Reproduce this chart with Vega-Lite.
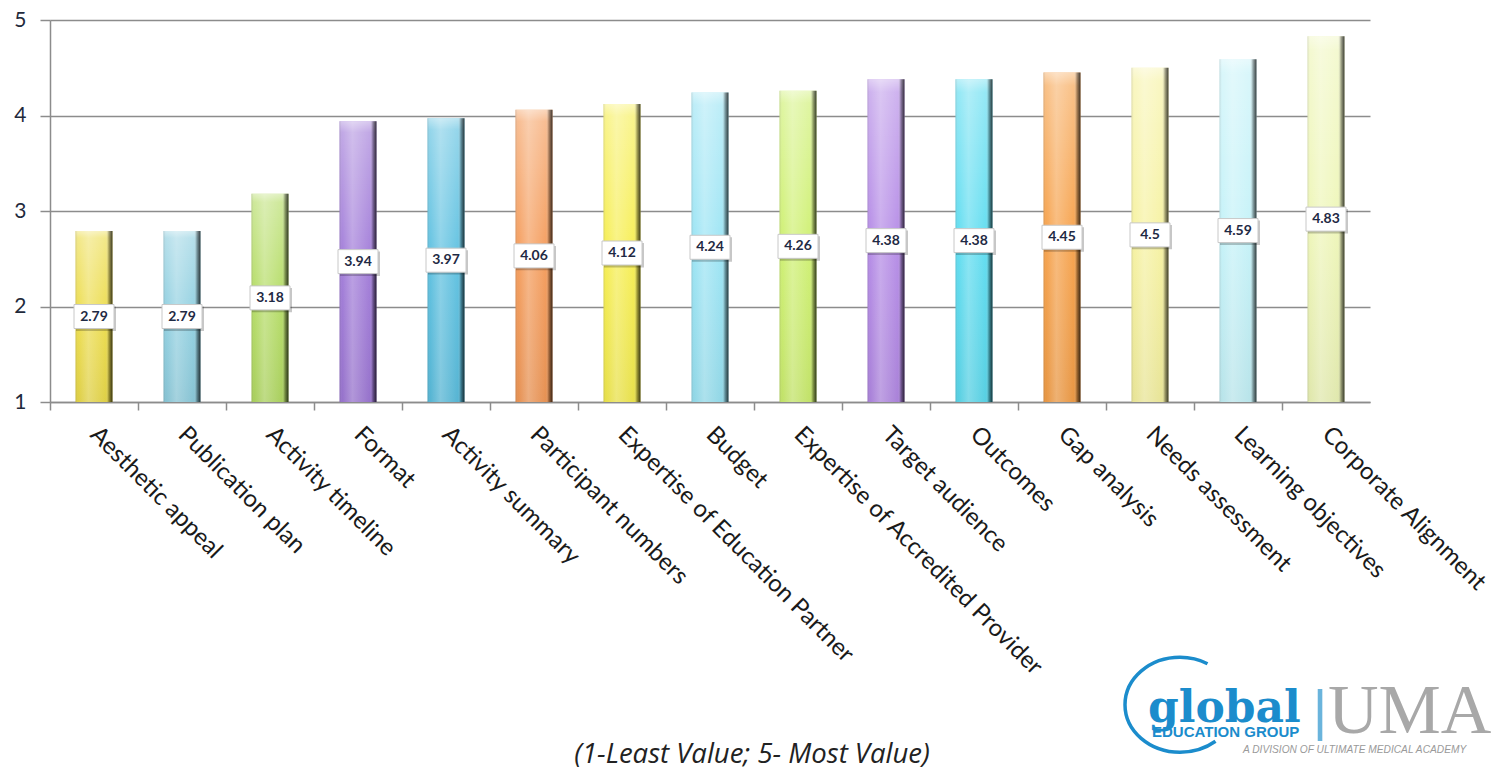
{
  "$schema": "https://vega.github.io/schema/vega-lite/v6.json",
  "autosize": "none",
  "width": 1320,
  "height": 382,
  "padding": {"left": 50, "top": 20, "right": 126, "bottom": 370},
  "background": "white",
  "config": {"view": {"stroke": null}},
  "title": {
    "text": "(1-Least Value; 5- Most Value)",
    "orient": "bottom",
    "anchor": "middle",
    "font": "Open Sans",
    "fontStyle": "italic",
    "fontWeight": "normal",
    "fontSize": 27.5,
    "color": "#222222",
    "offset": -18,
    "dx": 42
  },
  "data": {
    "values": [
      {"cat": "Aesthetic appeal", "value": 2.79},
      {"cat": "Publication plan", "value": 2.79},
      {"cat": "Activity timeline", "value": 3.18},
      {"cat": "Format", "value": 3.94},
      {"cat": "Activity summary", "value": 3.97},
      {"cat": "Participant numbers", "value": 4.06},
      {"cat": "Expertise of Education Partner", "value": 4.12},
      {"cat": "Budget", "value": 4.24},
      {"cat": "Expertise of Accredited Provider", "value": 4.26},
      {"cat": "Target audience", "value": 4.38},
      {"cat": "Outcomes", "value": 4.38},
      {"cat": "Gap analysis", "value": 4.45},
      {"cat": "Needs assessment", "value": 4.5},
      {"cat": "Learning objectives", "value": 4.59},
      {"cat": "Corporate Alignment", "value": 4.83}
    ]
  },
  "resolve": {"scale": {"y": "independent"}},
  "layer": [
    {
      "layer": [
        {
          "mark": {"type": "bar"},
          "encoding": {
            "x": {
              "field": "cat",
              "type": "nominal",
              "sort": null,
              "scale": {
                "domain": ["Aesthetic appeal", "Publication plan", "Activity timeline", "Format", "Activity summary", "Participant numbers", "Expertise of Education Partner", "Budget", "Expertise of Accredited Provider", "Target audience", "Outcomes", "Gap analysis", "Needs assessment", "Learning objectives", "Corporate Alignment"],
                "paddingInner": 0.58,
                "paddingOuter": 0.29
              },
              "axis": {
                "title": null,
                "labelAngle": 45,
                "labelAlign": "left",
                "labelBaseline": "top",
                "labelFont": "Lato",
                "labelFontSize": 24,
                "labelColor": "#1a1a1a",
                "labelPadding": 12,
                "labelOffset": 52,
                "labelLimit": 400,
                "domainColor": "#8c8c8c",
                "domainWidth": 1.5,
                "tickColor": "#8c8c8c",
                "tickWidth": 1.5,
                "tickSize": 8,
                "tickOffset": -44
              }
            },
            "y": {
              "field": "value",
              "type": "quantitative",
              "scale": {"domain": [1, 5], "zero": false, "nice": false},
              "axis": {
                "title": null,
                "values": [1, 2, 3, 4, 5],
                "format": "d",
                "labelFont": "Lato",
                "labelFontSize": 21,
                "labelColor": "#1f2a3c",
                "labelPadding": 14,
                "tickSize": 10,
                "tickColor": "#8c8c8c",
                "tickWidth": 1.5,
                "domainColor": "#8c8c8c",
                "domainWidth": 1.5,
                "grid": true,
                "gridColor": "#8c8c8c",
                "gridWidth": 1.5
              }
            },
            "y2": {"datum": 1},
            "color": {
              "field": "cat",
              "type": "nominal",
              "legend": null,
              "scale": {
                "domain": ["Aesthetic appeal", "Publication plan", "Activity timeline", "Format", "Activity summary", "Participant numbers", "Expertise of Education Partner", "Budget", "Expertise of Accredited Provider", "Target audience", "Outcomes", "Gap analysis", "Needs assessment", "Learning objectives", "Corporate Alignment"],
                "range": ["#ecdc4a", "#8fcfe0", "#b4dc64", "#a07ad8", "#5cc0e0", "#f49a58", "#f6ee50", "#9ae4f4", "#cef070", "#b48ae6", "#5cdcf0", "#f6a048", "#f6f2a0", "#c4f2f8", "#eef6b8"]
              }
            }
          }
        },
        {
          "mark": {
            "type": "bar",
            "fill": {
              "gradient": "linear", "x1": 0, "y1": 0, "x2": 0, "y2": 1,
              "stops": [
                {"offset": 0, "color": "rgba(255,255,255,0.6)"},
                {"offset": 0.04, "color": "rgba(255,255,255,0.35)"},
                {"offset": 0.5, "color": "rgba(255,255,255,0.05)"},
                {"offset": 1, "color": "rgba(0,0,0,0.06)"}
              ]
            }
          },
          "encoding": {
            "x": {"field": "cat", "type": "nominal", "sort": null},
            "y": {"field": "value", "type": "quantitative"},
            "y2": {"datum": 1}
          }
        },
        {
          "mark": {
            "type": "bar",
            "fill": {
              "gradient": "linear", "x1": 0, "y1": 0, "x2": 1, "y2": 0,
              "stops": [
                {"offset": 0, "color": "rgba(0,0,0,0.12)"},
                {"offset": 0.08, "color": "rgba(255,255,255,0)"},
                {"offset": 0.35, "color": "rgba(255,255,255,0.25)"},
                {"offset": 0.82, "color": "rgba(255,255,255,0)"},
                {"offset": 0.9, "color": "rgba(0,0,0,0.3)"},
                {"offset": 1, "color": "rgba(0,0,0,0.75)"}
              ]
            }
          },
          "encoding": {
            "x": {"field": "cat", "type": "nominal", "sort": null},
            "y": {"field": "value", "type": "quantitative"},
            "y2": {"datum": 1}
          }
        },
        {
          "data": {"values": [{"label": "swoosh"}]},
          "mark": {
            "type": "point",
            "shape": "M1.15,-0.82 Q0.9,-0.95 0.6,-0.95 C-0.0075,-0.95 -0.5,-0.525 -0.5,0 C-0.5,0.525 -0.0075,0.95 0.6,0.95 Q1.0,0.95 1.31,0.73",
            "filled": false,
            "stroke": "#1b8ccc",
            "strokeWidth": 3.5,
            "size": 10000,
            "opacity": 1
          },
          "encoding": {
            "x": {"datum": "Needs assessment"},
            "y": {"datum": -2.17}
          }
        },
        {
          "data": {"values": [{"label": "global"}]},
          "mark": {"type": "text", "font": "DejaVu Serif", "fontWeight": "bold", "fontSize": 44, "color": "#1b8ccc", "align": "left", "baseline": "alphabetic", "dx": -2},
          "encoding": {
            "x": {"datum": "Needs assessment"},
            "y": {"datum": -2.35},
            "text": {"field": "label"}
          }
        },
        {
          "data": {"values": [{"label": "EDUCATION GROUP"}]},
          "mark": {"type": "text", "font": "Liberation Sans", "fontWeight": "bold", "fontSize": 15, "color": "#1b8ccc", "align": "left", "baseline": "alphabetic", "dx": 2},
          "encoding": {
            "x": {"datum": "Needs assessment"},
            "y": {"datum": -2.51},
            "text": {"field": "label"}
          }
        },
        {
          "data": {"values": [{"label": "|"}]},
          "mark": {"type": "text", "font": "Liberation Sans", "fontSize": 56, "color": "#6ab4dc", "align": "center", "baseline": "middle", "dx": -6},
          "encoding": {
            "x": {"datum": "Corporate Alignment"},
            "y": {"datum": -2.246},
            "text": {"field": "label"}
          }
        },
        {
          "data": {"values": [{"label": "UMA"}]},
          "mark": {"type": "text", "font": "Liberation Serif", "fontSize": 70, "color": "#a8a8a8", "align": "left", "baseline": "alphabetic", "dx": 2},
          "encoding": {
            "x": {"datum": "Corporate Alignment"},
            "y": {"datum": -2.47},
            "text": {"field": "label"}
          }
        },
        {
          "data": {"values": [{"label": "A DIVISION OF ULTIMATE MEDICAL ACADEMY"}]},
          "mark": {"type": "text", "font": "Liberation Sans", "fontStyle": "italic", "fontSize": 10.2, "color": "#9a9a9a", "align": "left", "baseline": "alphabetic", "dx": 5},
          "encoding": {
            "x": {"datum": "Learning objectives"},
            "y": {"datum": -2.675},
            "text": {"field": "label"}
          }
        }
      ]
    },
    {
      "layer": [
        {
          "mark": {
            "type": "point",
            "shape": "M-0.9,-0.5L1.1,-0.5L1.1,0.72L-0.9,0.72Z",
            "filled": true,
            "fill": "rgba(0,0,0,0.22)",
            "strokeWidth": 0,
            "size": 1600,
            "opacity": 1
          },
          "encoding": {
            "x": {"field": "cat", "type": "nominal", "sort": null},
            "y": {"field": "value", "type": "quantitative", "scale": {"domain": [1, 9], "zero": false, "nice": false}, "axis": null}
          }
        },
        {
          "mark": {
            "type": "point",
            "shape": "M-1,-0.6L1,-0.6L1,0.6L-1,0.6Z",
            "filled": true,
            "fill": "white",
            "stroke": "#c8c8c8",
            "strokeWidth": 1,
            "size": 1600,
            "opacity": 1
          },
          "encoding": {
            "x": {"field": "cat", "type": "nominal", "sort": null},
            "y": {"field": "value", "type": "quantitative"}
          }
        },
        {
          "mark": {"type": "text", "font": "Lato", "fontWeight": "bold", "fontSize": 14, "color": "#1f2a44", "align": "center", "baseline": "middle"},
          "encoding": {
            "x": {"field": "cat", "type": "nominal", "sort": null},
            "y": {"field": "value", "type": "quantitative"},
            "text": {"field": "value", "type": "quantitative"}
          }
        }
      ]
    }
  ]
}
